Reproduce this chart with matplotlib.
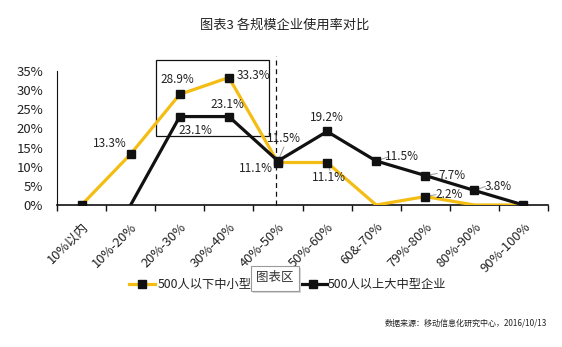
import numpy as np
import matplotlib
matplotlib.use("Agg")
import matplotlib.pyplot as plt
from matplotlib.lines import Line2D
from matplotlib.patches import Rectangle

plt.rcParams['font.family'] = ['Noto Sans CJK SC', 'DejaVu Sans']

categories = ["10%以内", "10%-20%", "20%-30%", "30%-40%", "40%-50%",
              "50%-60%", "60&-70%", "79%-80%", "80%-90%", "90%-100%"]
small = [0.0, 13.3, 28.9, 33.3, 11.1, 11.1, 0.0, 2.2, 0.0, 0.0]
large = [np.nan, 0.0, 23.1, 23.1, 11.5, 19.2, 11.5, 7.7, 3.8, 0.0]
small_name = "500人以下中小型企业"
large_name = "500人以上大中型企业"
title = "图表3 各规模企业使用率对比"
source = "数据来源：移动信息化研究中心，2016/10/13"

YELLOW = "#F4BD14"
BLACK = "#111111"
TXT = "#222222"

W, H = 562, 347
fig = plt.figure(figsize=(W/100, H/100), dpi=100)
ax = fig.add_axes([57/W, 1-205/H, (548-57)/W, (205-71)/H])

x = np.arange(len(categories))
ys = np.array(small)/100
yl = np.array(large)/100

ax.plot(x, ys, color=YELLOW, lw=2.3, zorder=3, solid_joinstyle='miter')
ax.plot(x[[0, 1, 2, 3, 4, 5, 7]], ys[[0, 1, 2, 3, 4, 5, 7]], ls='none',
        marker='s', ms=5.5, color=BLACK, zorder=5)
ax.plot(x, yl, color=BLACK, lw=2.3, zorder=4, solid_joinstyle='miter')
ax.plot(x[2:], yl[2:], ls='none', marker='s', ms=5.5, color=BLACK, zorder=5)

ax.set_xlim(-0.5, len(categories)-0.5)
ax.set_ylim(0, 0.35)
ax.set_yticks(np.arange(0, 0.36, 0.05))
ax.set_yticklabels([f"{int(round(v*100))}%" for v in np.arange(0, 0.36, 0.05)],
                   fontsize=9.5, color=TXT)
ax.set_xticks(np.arange(-0.5, len(categories), 1.0))
ax.set_xticklabels([])
ax.set_xticks(x, minor=True)
ax.set_xticklabels(categories, minor=True, rotation=45, ha='right',
                   rotation_mode='anchor', fontsize=9.3, color=TXT)
ax.tick_params(axis='x', which='minor', length=0, pad=11)
ax.tick_params(axis='x', which='major', length=4, width=1, color=BLACK, direction='out')
ax.tick_params(axis='y', length=0, pad=10)
for s in ['top', 'right']:
    ax.spines[s].set_visible(False)
ax.spines['left'].set_color(BLACK)
ax.spines['bottom'].set_color(BLACK)
ax.spines['bottom'].set_linewidth(1.2)

# data labels (offset in pixels)
labels = [
    (1, small[1], "13.3%", -21, 11),
    (2, small[2], "28.9%", -2, 15),
    (3, small[3], "33.3%", 25, 2),
    (2, large[2], "23.1%", 16, -14),
    (3, large[3], "23.1%", -1, 12),
    (4, large[4], "11.5%", 6, 22),
    (4, small[4], "11.1%", -22, -6),
    (5, large[5], "19.2%", 0, 14),
    (5, small[5], "11.1%", 2, -15),
    (6, large[6], "11.5%", 26, 4),
    (7, large[7], "7.7%", 27, 0),
    (7, small[7], "2.2%", 24, 2),
    (8, large[8], "3.8%", 24, 4),
]
for xi, v, t, dx, dy in labels:
    ax.annotate(t, (xi, v/100), xytext=(dx, dy), textcoords='offset pixels',
                ha='center', va='center', fontsize=8.5, color=TXT, zorder=6)

# leader lines
for xi, v, dx, dy in [(6, large[6], 12, 4), (7, large[7], 12, 2), (7, small[7], 11, 2),
                      (8, large[8], 11, 4), (5, small[5], 3, -8), (4, large[4], 6, 14)]:
    ax.annotate("", (xi, v/100), xytext=(dx, dy), textcoords='offset pixels',
                arrowprops=dict(arrowstyle='-', color='#999999', lw=0.7,
                                shrinkA=0, shrinkB=2))

# highlight box and dashed divider
rect = Rectangle((1.51, 0.18), 3.82-1.51, 0.379-0.18, fill=False, ec=BLACK,
                 lw=0.9, clip_on=False, zorder=2)
ax.add_patch(rect)
ax.plot([3.96, 3.96], [0, 0.39], color=BLACK, lw=0.9, ls=(0, (4, 3)),
        clip_on=False, zorder=2)

# title
fig.text(285/W, 1-25/H, title, ha='center', va='center', fontsize=9.5, color=TXT)

# legend (manual)
def fy(y):
    return 1-y/H
ly = 284
fig.add_artist(Line2D([129/W, 155/W], [fy(ly), fy(ly)], color=YELLOW, lw=2.3))
fig.add_artist(Line2D([142/W], [fy(ly)], marker='s', ms=5.5, color=BLACK, ls='none'))
fig.text(158/W, fy(ly), small_name, ha='left', va='center', fontsize=8.8, color=TXT)
fig.add_artist(Line2D([299/W, 327/W], [fy(ly), fy(ly)], color=BLACK, lw=2.3))
fig.add_artist(Line2D([313/W], [fy(ly)], marker='s', ms=5.5, color=BLACK, ls='none'))
fig.text(328/W, fy(ly), large_name, ha='left', va='center', fontsize=8.8, color=TXT)

# tooltip box (with soft shadow)
fig.add_artist(Rectangle((253/W, fy(293)), 48/W, 25/H, transform=fig.transFigure,
                         fc='#d8d8d8', ec='none', zorder=9))
fig.add_artist(Rectangle((251/W, fy(291)), 48/W, 25/H, transform=fig.transFigure,
                         fc='white', ec='#9a9a9a', lw=0.8, zorder=10))
fig.text(275/W, fy(277), "图表区", ha='center', va='center', fontsize=9,
         color='#333333', zorder=11)

# source
fig.text(547/W, fy(323), source, ha='right', va='center', fontsize=5.8, color=TXT)

fig.savefig("out.png", dpi=100)
